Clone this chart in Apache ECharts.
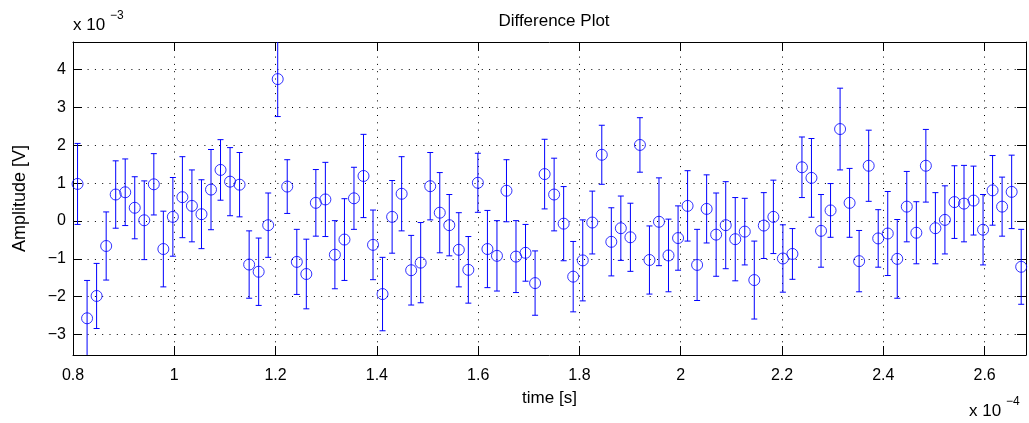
<!DOCTYPE html>
<html>
<head>
<meta charset="utf-8">
<script src="https://cdn.jsdelivr.net/npm/echarts@6/dist/echarts.min.js"></script>
<style>
html,body{margin:0;padding:0;background:#fff;}
#chart{width:1029px;height:423px;}
</style>
</head>
<body>
<div id="chart"></div>
<script>
// time in units of 1e-4 s
const time = [
0.8090,0.8278,0.8466,0.8655,0.8843,0.9031,0.9219,0.9407,0.9596,0.9784,
0.9972,1.0160,1.0348,1.0537,1.0725,1.0913,1.1101,1.1289,1.1478,1.1666,
1.1854,1.2042,1.2230,1.2419,1.2607,1.2795,1.2983,1.3171,1.3360,1.3548,
1.3736,1.3924,1.4112,1.4301,1.4489,1.4677,1.4865,1.5053,1.5242,1.5430,
1.5618,1.5806,1.5994,1.6183,1.6371,1.6559,1.6747,1.6935,1.7124,1.7312,
1.7500,1.7688,1.7876,1.8065,1.8253,1.8441,1.8629,1.8817,1.9006,1.9194,
1.9382,1.9570,1.9758,1.9947,2.0135,2.0323,2.0511,2.0699,2.0888,2.1076,
2.1264,2.1452,2.1640,2.1829,2.2017,2.2205,2.2393,2.2581,2.2770,2.2958,
2.3146,2.3334,2.3522,2.3711,2.3899,2.4087,2.4275,2.4463,2.4652,2.4840,
2.5028,2.5216,2.5404,2.5593,2.5781,2.5969,2.6157,2.6345,2.6534,2.6722
];
// amplitude in units of 1e-3 V
const amplitude = [
0.98,-2.57,-1.98,-0.66,0.70,0.76,0.35,0.02,0.97,-0.74,
0.11,0.63,0.40,0.18,0.83,1.35,1.04,0.96,-1.15,-1.34,
-0.11,3.75,0.91,-1.08,-1.40,0.48,0.57,-0.89,-0.49,0.60,
1.19,-0.63,-1.93,0.11,0.72,-1.30,-1.10,0.92,0.22,-0.11,
-0.76,-1.29,1.01,-0.74,-0.92,0.80,-0.94,-0.84,-1.64,1.24,
0.70,-0.07,-1.47,-1.04,-0.04,1.75,-0.55,-0.19,-0.43,2.01,
-1.03,-0.02,-0.91,-0.45,0.40,-1.16,0.32,-0.36,-0.11,-0.48,
-0.28,-1.56,-0.12,0.11,-0.99,-0.87,1.42,1.14,-0.26,0.28,
2.43,0.48,-1.06,1.46,-0.46,-0.33,-1.00,0.38,-0.31,1.46,
-0.19,0.03,0.50,0.46,0.54,-0.23,0.81,0.38,0.77,-1.21
];
// error half-width in units of 1e-3 V
const errorBar = [
1.07,1.00,0.86,0.90,0.89,0.88,0.82,1.04,0.81,1.00,
1.04,1.07,0.95,0.91,1.06,0.80,0.90,0.85,0.89,0.89,
0.85,0.99,0.71,0.86,0.92,0.88,0.98,0.90,1.08,0.82,
1.10,0.92,0.97,0.96,0.98,0.92,1.06,0.89,1.06,0.81,
0.98,0.88,0.78,1.02,0.93,0.82,0.95,0.75,0.85,0.92,
0.96,0.98,0.93,1.07,0.83,0.78,0.90,0.85,0.90,0.72,
0.90,1.16,0.96,0.85,0.93,0.94,0.90,1.10,1.15,1.10,
0.88,1.03,0.87,0.97,0.89,0.67,0.80,1.04,0.96,0.71,
1.08,0.91,0.81,0.94,0.76,1.11,1.04,0.93,0.82,0.96,
0.94,0.90,0.96,1.01,0.91,0.93,0.92,0.78,0.97,0.99
];

const X_MIN = 0.8, X_MAX = 2.6817;
const Y_MIN = -3.54, Y_MAX = 4.73;
const FONT = "'Liberation Sans', Arial, Helvetica, sans-serif";
const BLUE = '#0000ff';

const points = time.map((t, i) => [t, amplitude[i]]);
const bars = time.map((t, i) => [t, amplitude[i] - errorBar[i], amplitude[i] + errorBar[i]]);

function fmtNum(v, step) {
  const k = Math.round(v / step);
  if (Math.abs(v - k * step) > 1e-6) return '';
  const r = Math.round(v * 1000) / 1000;
  return r < 0 ? '\u2212' + String(-r) : String(r);
}

const tickCommon = { show: true, inside: true, length: 9, lineStyle: { color: '#000', width: 1 } };
const lineCommon = { show: true, onZero: false, lineStyle: { color: '#000', width: 1 } };
const gridLine = { show: true, lineStyle: { color: '#000', width: 1, type: [1, 6.3] } };

const chart = echarts.init(document.getElementById('chart'), null, { renderer: 'canvas' });
chart.setOption({
  animation: false,
  backgroundColor: '#fff',
  textStyle: { fontFamily: FONT },
  title: {
    text: 'Difference Plot',
    left: 549, top: 8, textAlign: 'center',
    textStyle: { fontFamily: FONT, fontSize: 17, fontWeight: 'normal', color: '#000' }
  },
  grid: { left: 73, right: 3, top: 42, bottom: 68, containLabel: false },
  xAxis: [{
    type: 'value', position: 'bottom', min: X_MIN, max: X_MAX, splitNumber: 9,
    axisLine: lineCommon, axisTick: tickCommon, splitLine: gridLine,
    axisLabel: { show: true, margin: 13, fontFamily: FONT, fontSize: 16, color: '#000',
      showMaxLabel: false, formatter: v => fmtNum(v, 0.2) },
    name: 'time [s]', nameLocation: 'middle', nameGap: 35,
    nameTextStyle: { fontFamily: FONT, fontSize: 17, color: '#000' }
  }, {
    type: 'value', position: 'top', min: X_MIN, max: X_MAX, splitNumber: 9,
    axisLine: lineCommon, axisTick: tickCommon, splitLine: { show: false },
    axisLabel: { show: false }
  }],
  yAxis: [{
    type: 'value', position: 'left', min: Y_MIN, max: Y_MAX, splitNumber: 8,
    axisLine: lineCommon, axisTick: tickCommon, splitLine: gridLine,
    axisLabel: { show: true, margin: 7, fontFamily: FONT, fontSize: 16, color: '#000',
      showMinLabel: false, showMaxLabel: false, formatter: v => fmtNum(v, 1) },
    name: 'Amplitude [V]', nameLocation: 'middle', nameGap: 44, nameRotate: 90,
    nameTextStyle: { fontFamily: FONT, fontSize: 18, color: '#000' }
  }, {
    type: 'value', position: 'right', min: Y_MIN, max: Y_MAX, splitNumber: 8,
    axisLine: lineCommon, axisTick: tickCommon, splitLine: { show: false },
    axisLabel: { show: false }
  }],
  graphic: [
    { type: 'text', left: 73, top: 17, style: { text: 'x 10', font: '17px ' + FONT, fill: '#000' } },
    { type: 'text', left: 110, top: 10, style: { text: '\u22123', font: '12px ' + FONT, fill: '#000' } },
    { type: 'text', left: 969, top: 403, style: { text: 'x 10', font: '17px ' + FONT, fill: '#000' } },
    { type: 'text', left: 1006, top: 396, style: { text: '\u22124', font: '12px ' + FONT, fill: '#000' } }
  ],
  series: [{
    type: 'custom',
    xAxisIndex: 0, yAxisIndex: 0,
    data: bars,
    z: 3,
    renderItem: function (params, api) {
      const x = api.value(0);
      const lo = api.value(1), hi = api.value(2);
      const loC = Math.max(lo, Y_MIN), hiC = Math.min(hi, Y_MAX);
      const p1 = api.coord([x, loC]);
      const p2 = api.coord([x, hiC]);
      const cw = 3;
      const st = { stroke: BLUE, lineWidth: 1, fill: null };
      const children = [{ type: 'line', shape: { x1: p1[0], y1: p1[1], x2: p2[0], y2: p2[1] }, style: st }];
      if (lo >= Y_MIN) children.push({ type: 'line', shape: { x1: p1[0] - cw, y1: p1[1], x2: p1[0] + cw, y2: p1[1] }, style: st });
      if (hi <= Y_MAX) children.push({ type: 'line', shape: { x1: p2[0] - cw, y1: p2[1], x2: p2[0] + cw, y2: p2[1] }, style: st });
      return { type: 'group', children: children };
    }
  }, {
    type: 'scatter',
    xAxisIndex: 0, yAxisIndex: 0,
    data: points,
    symbol: 'circle',
    symbolSize: 11,
    z: 4,
    itemStyle: { color: 'rgba(0,0,0,0)', borderColor: BLUE, borderWidth: 1 },
    emphasis: { disabled: true }
  }]
});
</script>
</body>
</html>
